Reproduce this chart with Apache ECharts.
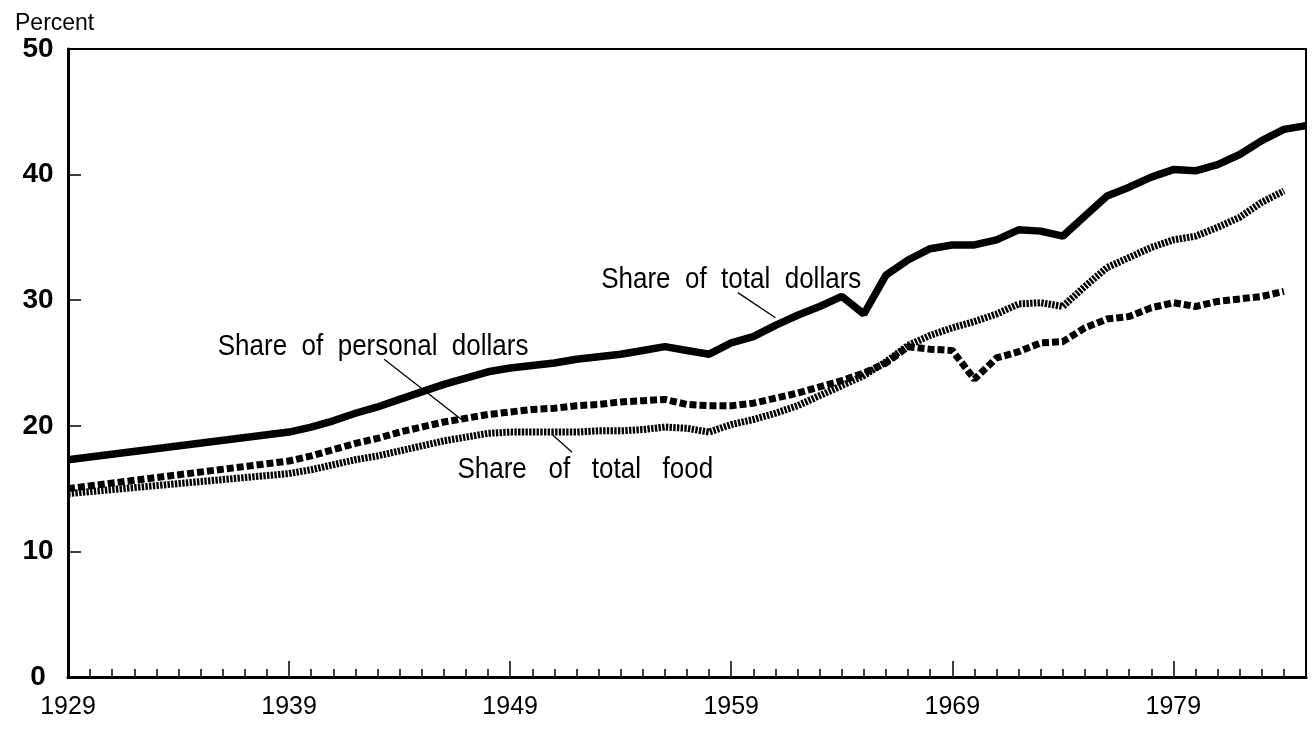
<!DOCTYPE html>
<html>
<head>
<meta charset="utf-8">
<script src="https://cdn.jsdelivr.net/npm/echarts@6.0.0/dist/echarts.min.js"></script>
<style>
  html, body { margin: 0; padding: 0; background: #fff; }
  #chart { width: 1312px; height: 729px; }
</style>
</head>
<body>
<div id="chart"></div>
<script>
// years: 1929, 1939, then every year to 1985
var years = [1929, 1939, 1940, 1941, 1942, 1943, 1944, 1945, 1946, 1947, 1948, 1949,
  1950, 1951, 1952, 1953, 1954, 1955, 1956, 1957, 1958, 1959,
  1960, 1961, 1962, 1963, 1964, 1965, 1966, 1967, 1968, 1969,
  1970, 1971, 1972, 1973, 1974, 1975, 1976, 1977, 1978, 1979,
  1980, 1981, 1982, 1983, 1984, 1985]

var totalDollars = [17.3, 19.5, 19.9, 20.4, 21.0, 21.5, 22.1, 22.7, 23.3, 23.8, 24.3, 24.6,
  24.8, 25.0, 25.3, 25.5, 25.7, 26.0, 26.3, 26.0, 25.7, 26.6,
  27.1, 28.0, 28.8, 29.5, 30.3, 28.9, 32.0, 33.2, 34.1, 34.4,
  34.4, 34.8, 35.6, 35.5, 35.1, 36.7, 38.3, 39.0, 39.8, 40.4,
  40.3, 40.8, 41.6, 42.7, 43.6, 43.9]

var personalDollars = [15.0, 17.2, 17.6, 18.1, 18.6, 19.0, 19.5, 19.9, 20.3, 20.6, 20.9, 21.1,
  21.3, 21.4, 21.6, 21.7, 21.9, 22.0, 22.1, 21.7, 21.6, 21.6,
  21.8, 22.2, 22.6, 23.1, 23.6, 24.2, 25.0, 26.3, 26.1, 26.0,
  23.7, 25.4, 25.9, 26.6, 26.7, 27.8, 28.5, 28.7, 29.4, 29.8,
  29.5, 29.9, 30.1, 30.3, 30.7, null]

var totalFood = [14.6, 16.2, 16.5, 16.9, 17.3, 17.6, 18.0, 18.4, 18.8, 19.1, 19.4, 19.5,
  19.5, 19.5, 19.5, 19.6, 19.6, 19.7, 19.9, 19.8, 19.5, 20.1,
  20.5, 21.0, 21.6, 22.4, 23.2, 24.0, 25.1, 26.4, 27.2, 27.8,
  28.3, 28.9, 29.7, 29.8, 29.5, 31.1, 32.6, 33.4, 34.2, 34.8,
  35.1, 35.8, 36.6, 37.8, 38.7, null]

var yearTicks = []
for (var y = 1930; y <= 1984; y++) yearTicks.push(y)
var decadeLabels = [1929, 1939, 1949, 1959, 1969, 1979]

var sans = '"Liberation Sans", Arial, Helvetica, sans-serif'

// annotation text and leader lines, in data units [year, percent]
var notes = [
  { text: 'Share  of  total  dollars', at: [1959.0, 31.6], from: [1959.3, 30.6], to: [1961.0, 28.6] },
  { text: 'Share  of  personal  dollars', at: [1942.8, 26.3], from: [1943.3, 25.3], to: [1946.8, 20.5] },
  { text: 'Share   of   total   food', at: [1952.4, 16.5], from: [1950.9, 19.3], to: [1951.8, 17.9] }
]

function pairs (vals) {
  return years.map(function (yr, i) { return [yr, vals[i]] })
}

var chart = echarts.init(document.getElementById('chart'), null, { renderer: 'canvas' })

chart.setOption({
  animation: false,
  backgroundColor: '#fff',
  title: {
    text: 'Percent',
    left: 10,
    top: 7,
    textStyle: { fontFamily: sans, fontSize: 23, fontWeight: 'normal', color: '#000' }
  },
  grid: {
    left: 68, right: 6, top: 49, bottom: 52,
    show: true, borderColor: '#000', borderWidth: 2
  },
  xAxis: [
    {
      type: 'value', min: 1929, max: 1985, position: 'bottom',
      axisLine: { lineStyle: { color: '#000', width: 3 } },
      axisTick: { inside: true, length: 8, customValues: yearTicks, lineStyle: { color: '#000', width: 1.5 } },
      axisLabel: { show: false },
      splitLine: { show: false }
    },
    {
      type: 'value', min: 1929, max: 1985, position: 'bottom', offset: 0,
      axisLine: { show: false },
      axisTick: { inside: true, length: 16, customValues: decadeLabels, lineStyle: { color: '#000', width: 1.5 } },
      axisLabel: {
        customValues: decadeLabels, margin: 18, color: '#000',
        fontFamily: sans, fontSize: 25,
        formatter: function (v) { return String(v) }
      },
      splitLine: { show: false }
    }
  ],
  yAxis: {
    type: 'value', min: 0, max: 50, interval: 10,
    axisLine: { show: true, lineStyle: { color: '#000', width: 3 } },
    axisTick: { show: true, inside: true, length: 13, lineStyle: { color: '#000', width: 1.5 } },
    axisLabel: {
      color: '#000', fontFamily: sans,
      fontSize: 28, fontWeight: 'bold', align: 'center', margin: 30
    },
    splitLine: { show: false }
  },
  series: [
    {
      name: 'Share of total food', type: 'line', xAxisIndex: 0, data: pairs(totalFood),
      showSymbol: false, symbol: 'none',
      lineStyle: { color: '#000', width: 7, type: [2.4, 1.3] }
    },
    {
      name: 'Share of personal dollars', type: 'line', xAxisIndex: 0, data: pairs(personalDollars),
      showSymbol: false, symbol: 'none',
      lineStyle: { color: '#000', width: 7, type: [7, 3] }
    },
    {
      name: 'Share of total dollars', type: 'line', xAxisIndex: 0, data: pairs(totalDollars),
      showSymbol: false, symbol: 'none',
      lineStyle: { color: '#000', width: 7.5, type: 'solid' }
    }
  ]
})

// place the annotations through the chart's own scales
var finder = { seriesIndex: 0 }
var elements = []
notes.forEach(function (n) {
  var p = chart.convertToPixel(finder, n.at)
  var a = chart.convertToPixel(finder, n.from)
  var b = chart.convertToPixel(finder, n.to)
  elements.push({
    type: 'text', x: p[0], y: p[1], scaleY: 1.15,
    style: {
      text: n.text, fill: '#000', font: '26px ' + sans,
      align: 'center', verticalAlign: 'middle'
    }
  })
  elements.push({
    type: 'line',
    shape: { x1: a[0], y1: a[1], x2: b[0], y2: b[1] },
    style: { stroke: '#000', lineWidth: 1.3 }
  })
})
chart.setOption({ graphic: elements })
</script>
</body>
</html>
